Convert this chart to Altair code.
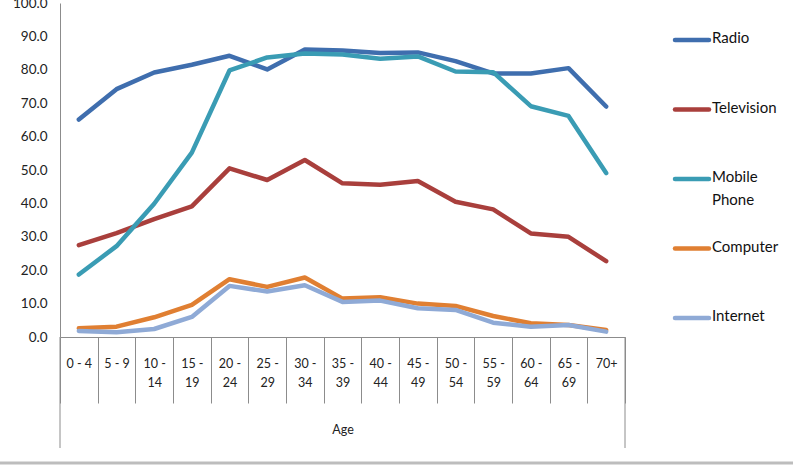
import altair as alt
import pandas as pd

# Age groups on the category axis
ages = ["0 - 4", "5 - 9", "10 - 14", "15 - 19", "20 - 24", "25 - 29", "30 - 34",
        "35 - 39", "40 - 44", "45 - 49", "50 - 54", "55 - 59", "60 - 64", "65 - 69", "70+"]

# Share (%) using each medium, by age group
radio = [65.1, 74.2, 79.2, 81.5, 84.2, 80.1, 86.1, 85.8, 85.0, 85.2, 82.6, 78.9, 78.9, 80.5, 69.0]
television = [27.5, 31.1, 35.3, 39.1, 50.5, 47.0, 53.0, 46.0, 45.6, 46.7, 40.5, 38.2, 31.0, 30.0, 22.7]
mobile_phone = [18.7, 27.2, 39.9, 55.2, 79.8, 83.7, 84.9, 84.6, 83.3, 84.0, 79.5, 79.3, 69.1, 66.2, 49.1]
computer = [2.6, 3.1, 5.9, 9.6, 17.3, 15.0, 17.8, 11.5, 11.9, 10.0, 9.3, 6.3, 4.1, 3.6, 2.1]
internet = [1.8, 1.4, 2.4, 6.0, 15.3, 13.6, 15.5, 10.5, 10.9, 8.6, 8.1, 4.3, 3.1, 3.6, 1.6]

series = ["Radio", "Television", "Mobile Phone", "Computer", "Internet"]
colors = ["#3F6EAE", "#A93F3C", "#3A9CB4", "#E07F32", "#8FAAD6"]
legend_text = ["Radio", "Television", "Mobile\nPhone", "Computer", "Internet"]

values = {"Radio": radio, "Television": television, "Mobile Phone": mobile_phone,
          "Computer": computer, "Internet": internet}

rows = []
for s in series:
    for a, v in zip(ages, values[s]):
        rows.append({"Age": a, "Medium": s, "Value": v})
df = pd.DataFrame(rows)
legend_df = pd.DataFrame({"Medium": series, "Label": legend_text})

W, H = 565, 334
FONT = "Lato"
AXIS_GREY = "#8C8C8C"
TEXT = "#222222"

lines = alt.Chart(df).mark_line(strokeWidth=4.5, strokeJoin="round", strokeCap="round").encode(
    x=alt.X("Age:N", sort=ages, bandPosition=0.5,
            scale=alt.Scale(type="band", paddingInner=0, paddingOuter=0),
            axis=alt.Axis(
                title="Age", labelAngle=0, tickBand="extent", tickSize=66,
                tickColor=AXIS_GREY, domainColor=AXIS_GREY,
                labelPadding=-46, labelBaseline="top", labelAlign="center",
                labelExpr="length(datum.label) > 5 ? [substring(datum.label, 0, 4), substring(datum.label, 5)] : datum.label",
                labelLineHeight=19, labelFontSize=12.5, labelFont=FONT, labelColor=TEXT,
                titleFont=FONT, titleFontSize=12.5, titleFontWeight="normal", titleColor=TEXT,
                titleY=92, titleBaseline="middle")),
    y=alt.Y("Value:Q", scale=alt.Scale(domain=[0, 100], nice=False),
            axis=alt.Axis(title=None, values=list(range(0, 101, 10)), format=".1f",
                          grid=False, ticks=False, labelPadding=13, domainColor=AXIS_GREY,
                          labelFont=FONT, labelFontSize=13.5, labelColor=TEXT)),
    color=alt.Color("Medium:N", sort=series,
                    scale=alt.Scale(domain=series, range=colors), legend=None),
)

# Vertical frame lines continuing below the category labels
frame = alt.Chart(pd.DataFrame({"edge": [0, W]})).mark_rule(color=AXIS_GREY, strokeWidth=1).encode(
    x=alt.X("edge:Q", scale=None, axis=None),
    y=alt.value(H),
    y2=alt.value(H + 111),
)

# Light separator across the bottom of the figure
bottom = alt.Chart(pd.DataFrame({"a": [0]})).mark_rule(color="#BDBDBD", strokeWidth=3).encode(
    x=alt.value(-60), x2=alt.value(733), y=alt.value(H + 126),
)

leg_y = alt.Y("Medium:N", sort=series, axis=None,
              scale=alt.Scale(type="point", domain=series, range=[37, 315], padding=0))

legend_lines = alt.Chart(legend_df).mark_rule(strokeWidth=4.5, strokeCap="round").encode(
    x=alt.value(615), x2=alt.value(649), y=leg_y,
    color=alt.Color("Medium:N", scale=alt.Scale(domain=series, range=colors), legend=None),
)

legend_labels = alt.Chart(legend_df).mark_text(
    align="left", baseline="top", dy=-9, lineBreak="\n", lineHeight=23,
    font=FONT, fontSize=15, color="#111111",
).encode(x=alt.value(652), y=leg_y, text="Label:N")

legend_layer = alt.layer(legend_lines, legend_labels)

chart = alt.layer(lines, frame, bottom, legend_layer).resolve_scale(
    y="independent", color="independent", x="independent"
).properties(
    width=W, height=H,
    background="white",
    autosize=alt.AutoSizeParams(type="none"),
    padding={"left": 60, "top": 3, "right": 168, "bottom": 129},
).configure_view(stroke="transparent", strokeWidth=0)

chart.save("out.html", embed_options={"renderer": "svg", "actions": False})
